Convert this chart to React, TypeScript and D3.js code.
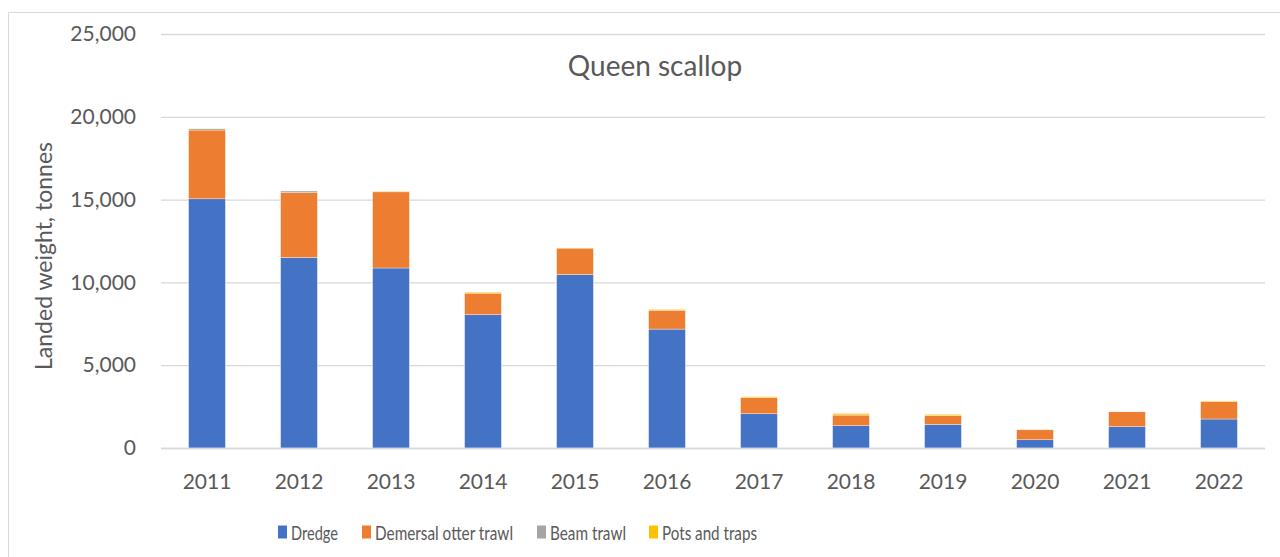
import React, { useEffect, useRef } from 'react';
import * as d3 from 'd3';

const years = ['2011', '2012', '2013', '2014', '2015', '2016', '2017', '2018', '2019', '2020', '2021', '2022'];
const dredge = [15050, 11500, 10870, 8050, 10470, 7180, 2070, 1350, 1430, 500, 1290, 1750];
const otterTrawl = [4150, 3920, 4600, 1300, 1600, 1140, 970, 640, 520, 600, 900, 1050];
const beamTrawl = [80, 100, 30, 0, 0, 0, 0, 10, 0, 0, 10, 0];
const potsTraps = [20, 0, 20, 60, 10, 50, 60, 90, 80, 0, 0, 40];
const yTicks = [0, 5000, 10000, 15000, 20000, 25000];

const seriesNames = ['Dredge', 'Demersal otter trawl', 'Beam trawl', 'Pots and traps'];
const seriesColors = ['#4472C4', '#ED7D31', '#A5A5A5', '#FFC000'];
// legend text widths (its font is narrower)
const legendWidths = [47, 138, 76, 95];

const W = 1280;
const H = 557;
const FONT = 'Lato, "Open Sans", sans-serif';
const TXT = '#595959';

export default function App() {
  const ref = useRef<SVGSVGElement>(null);

  useEffect(() => {
    document.body.style.margin = '0';
    const svg = d3.select(ref.current);
    svg.selectAll('*').remove();

    // chart area border (only top and left show in the crop)
    svg.append('path')
      .attr('d', `M8.5,${H} V12.5 H${W}`)
      .attr('fill', 'none').attr('stroke', '#d9d9d9');

    const x = d3.scaleBand().domain(years).range([161, 1265]).paddingInner(0.6).paddingOuter(0.3);
    const y = d3.scaleLinear().domain([0, 25000]).range([448, 34]);

    // gridlines + y labels
    const yAxis = d3.axisLeft(y).tickValues(yTicks).tickSize(-(1265 - 161)).tickPadding(25)
      .tickFormat(d => d3.format(',')(d as number));
    const gy = svg.append('g').attr('transform', 'translate(161,0)').call(yAxis);
    gy.select('.domain').remove();
    gy.selectAll('.tick line').attr('stroke', '#d9d9d9').attr('stroke-width', 1.3);
    gy.selectAll('.tick text').attr('fill', TXT).style('font-family', FONT).style('font-size', '21px');

    const rows = years.map((yr, i) => ({
      year: yr, s0: dredge[i], s1: otterTrawl[i], s2: beamTrawl[i], s3: potsTraps[i],
    }));
    const stack = d3.stack<any>().keys(['s0', 's1', 's2', 's3'])(rows);

    stack.forEach((layer, k) => {
      svg.append('g').selectAll('rect').data(layer).enter().append('rect')
        .attr('x', d => x(d.data.year)!)
        .attr('width', x.bandwidth())
        .attr('y', d => y(d[1]))
        .attr('height', d => Math.max(0, y(d[0]) - y(d[1])))
        .attr('fill', seriesColors[k])
        .attr('stroke', '#fff').attr('stroke-width', 0.6).attr('stroke-opacity', 0.6);
    });

    // x axis baseline + labels
    svg.append('line').attr('x1', 161).attr('x2', 1265).attr('y1', 448.5).attr('y2', 448.5)
      .attr('stroke', '#d9d9d9').attr('stroke-width', 1.3);
    svg.append('g').selectAll('text').data(years).enter().append('text')
      .attr('x', d => x(d)! + x.bandwidth() / 2)
      .attr('y', 480)
      .attr('text-anchor', 'middle').attr('dominant-baseline', 'central')
      .attr('fill', TXT).style('font-family', FONT).style('font-size', '21px')
      .text(d => d);

    // title
    svg.append('text').attr('x', 655).attr('y', 65)
      .attr('text-anchor', 'middle').attr('dominant-baseline', 'central')
      .attr('fill', TXT).style('font-family', FONT).style('font-size', '28px')
      .text('Queen scallop');

    // y axis title
    svg.append('text').attr('transform', 'translate(43,256) rotate(-90)')
      .attr('text-anchor', 'middle').attr('dominant-baseline', 'central')
      .attr('fill', TXT).style('font-family', FONT).style('font-size', '23px')
      .text('Landed weight, tonnes');

    // legend
    const legX = [278, 362, 537, 649];
    const leg = svg.append('g');
    seriesNames.forEach((name, k) => {
      leg.append('rect').attr('x', legX[k]).attr('y', 525.5).attr('width', 9).attr('height', 13)
        .attr('fill', seriesColors[k]);
      leg.append('text').attr('x', legX[k] + 13).attr('y', 532)
        .attr('dominant-baseline', 'central')
        .attr('textLength', legendWidths[k]).attr('lengthAdjust', 'spacingAndGlyphs')
        .attr('fill', TXT).style('font-family', FONT).style('font-size', '19px')
        .text(name);
    });
  }, []);

  return <svg ref={ref} width={W} height={H} style={{ display: 'block' }} />;
}
